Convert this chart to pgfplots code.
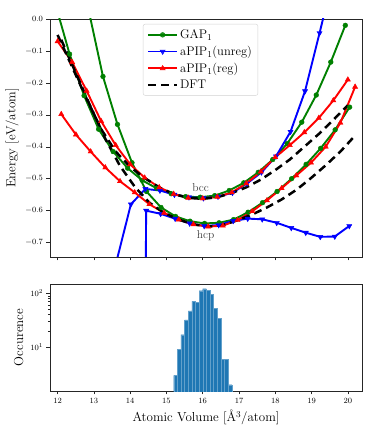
\documentclass[border=0pt]{standalone}
\usepackage{pgfplots}
\pgfplotsset{compat=1.18}
\definecolor{mgreen}{HTML}{008000}
\definecolor{mblue}{HTML}{0000FF}
\definecolor{mred}{HTML}{FF0000}
\definecolor{histblue}{HTML}{1F77B4}
\definecolor{framec}{HTML}{262626}

\pgfplotsset{
  common/.style={
    scale only axis,
    width=312pt,
    xmin=11.79, xmax=20.39,
    xtick={12,13,14,15,16,17,18,19,20},
    axis line style={framec, line width=0.6pt},
    tick style={framec, line width=0.5pt},
    tick align=outside,
    xtick pos=bottom, ytick pos=left,
    major tick length=3.5pt, minor tick length=2pt,
    tick label style={font=\fontsize{8.5}{10}\selectfont},
    label style={font=\fontsize{13}{15}\selectfont},
  },
  gapstyle/.style={mgreen, line width=1.9pt, mark=*, mark size=2.4pt, mark options={solid, line width=0.4pt}},
  unregstyle/.style={mblue, line width=1.9pt, mark=triangle*, mark size=3pt, mark options={solid, line width=0.4pt, rotate=180}},
  regstyle/.style={mred, line width=1.9pt, mark=triangle*, mark size=3pt, mark options={solid, line width=0.4pt}},
  dftstyle/.style={black, line width=2.5pt, dash pattern=on 8pt off 5pt},
}

\begin{document}
\begin{tikzpicture}
\path[use as bounding box] (-50pt,-179pt) rectangle (324pt,257pt);

\begin{axis}[common,
  name=top, at={(0,0)}, anchor=south west,
  height=238pt,
  ymin=-0.745, ymax=0,
  xticklabels={},
  ytick={-0.7,-0.6,-0.5,-0.4,-0.3,-0.2,-0.1,0},
  yticklabels={$-0.7$,$-0.6$,$-0.5$,$-0.4$,$-0.3$,$-0.2$,$-0.1$,$0.0$},
  ylabel={Energy [eV/atom]},
  legend cell align=left,
  legend style={at={(0.298,0.979)}, anchor=north west,
    font=\fontsize{12.5}{14}\selectfont,
    draw=black!18, rounded corners=2pt, fill=white, fill opacity=0.85, text opacity=1,
    row sep=2pt, inner xsep=4pt, inner ysep=3.5pt},
  legend image code/.code={\draw[mark repeat=2, mark phase=2] plot coordinates {(0cm,0cm) (0.5cm,0cm) (1cm,0cm)};},
]
% GAP_1
\addplot[gapstyle] coordinates {
(11.93,0.05) (12.33,-0.11) (12.73,-0.24) (13.13,-0.345) (13.53,-0.415) (13.93,-0.467)
(14.33,-0.505) (14.73,-0.53) (15.13,-0.547) (15.53,-0.556) (15.93,-0.558) (16.33,-0.553)
(16.73,-0.537) (17.13,-0.513) (17.53,-0.48) (17.93,-0.44) (18.33,-0.39) (18.73,-0.323)
(19.13,-0.238) (19.53,-0.135) (19.93,-0.02)};
\addlegendentry{GAP$_1$}
\addplot[gapstyle, forget plot] coordinates {
(12.05,0.36) (12.45,0.2) (12.85,0.03) (13.25,-0.18) (13.65,-0.33) (14.05,-0.45)
(14.45,-0.54) (14.85,-0.59) (15.25,-0.618) (15.65,-0.633) (16.05,-0.64) (16.45,-0.638)
(16.85,-0.628) (17.25,-0.605) (17.65,-0.575) (18.05,-0.54) (18.45,-0.5) (18.85,-0.455)
(19.25,-0.405) (19.65,-0.347) (20.05,-0.276)};
% aPIP_1 unregularised
\addplot[unregstyle] coordinates {
(13.22,-1.2) (13.62,-0.76) (14.02,-0.58) (14.42,-0.532) (14.82,-0.537) (15.22,-0.55)
(15.62,-0.558) (16.02,-0.561) (16.42,-0.556) (16.82,-0.544) (17.22,-0.515) (17.62,-0.48)
(18.02,-0.43) (18.42,-0.353) (18.82,-0.226) (19.22,-0.044) (19.62,0.14)};
\addlegendentry{aPIP$_1$(unreg)}
\addplot[unregstyle, forget plot] coordinates {
(14.04,-8) (14.44,-0.6) (14.84,-0.61) (15.24,-0.625) (15.64,-0.64) (16.04,-0.648)
(16.44,-0.645) (16.84,-0.632) (17.24,-0.625) (17.64,-0.627) (18.04,-0.638) (18.44,-0.654)
(18.84,-0.669) (19.24,-0.682) (19.64,-0.681) (20.04,-0.648)};
% aPIP_1 regularised
\addplot[regstyle] coordinates {
(12.0,-0.07) (12.4,-0.135) (12.8,-0.225) (13.2,-0.32) (13.6,-0.395) (14.0,-0.455)
(14.4,-0.497) (14.8,-0.527) (15.2,-0.548) (15.6,-0.56) (16.0,-0.562) (16.4,-0.557)
(16.8,-0.543) (17.2,-0.515) (17.6,-0.478) (18.0,-0.433) (18.4,-0.395) (18.8,-0.355)
(19.2,-0.31) (19.6,-0.255) (20.0,-0.19)};
\addlegendentry{aPIP$_1$(reg)}
\addplot[regstyle, forget plot] coordinates {
(12.1,-0.298) (12.505,-0.362) (12.91,-0.415) (13.315,-0.465) (13.72,-0.508) (14.125,-0.543)
(14.53,-0.58) (14.935,-0.607) (15.34,-0.628) (15.745,-0.643) (16.15,-0.65) (16.555,-0.647)
(16.96,-0.63) (17.365,-0.602) (17.77,-0.568) (18.175,-0.53) (18.58,-0.49) (18.985,-0.45)
(19.39,-0.4) (19.795,-0.325) (20.2,-0.2125)};
% DFT
\addplot[dftstyle] coordinates {
(12.0,-0.05) (12.4,-0.15) (12.8,-0.25) (13.2,-0.345) (13.6,-0.415) (14.0,-0.463)
(14.4,-0.498) (14.8,-0.527) (15.2,-0.548) (15.6,-0.56) (16.0,-0.563) (16.4,-0.558)
(16.8,-0.545) (17.2,-0.527) (17.6,-0.503) (18.0,-0.473) (18.4,-0.44) (18.8,-0.4)
(19.2,-0.36) (19.6,-0.316) (20.0,-0.27)};
\addlegendentry{DFT}
\addplot[dftstyle, forget plot] coordinates {
(12.1,-0.065) (12.505,-0.17) (12.91,-0.275) (13.315,-0.375) (13.72,-0.46) (14.125,-0.525)
(14.53,-0.575) (14.935,-0.607) (15.34,-0.628) (15.745,-0.643) (16.15,-0.65) (16.555,-0.645)
(16.96,-0.63) (17.365,-0.612) (17.77,-0.59) (18.175,-0.565) (18.58,-0.535) (18.985,-0.498)
(19.39,-0.458) (19.795,-0.415) (20.2,-0.365)};

\node[font=\fontsize{11.5}{13}\selectfont, text=black!75] at (axis cs:15.94,-0.528) {bcc};
\node[font=\fontsize{11.5}{13}\selectfont, text=black!75] at (axis cs:16.08,-0.678) {hcp};
\node[anchor=south west, inner sep=1pt, font=\fontsize{8}{9}\selectfont] at (rel axis cs:0,1) {$-1.593{\times}10^{3}$};
\end{axis}

\begin{axis}[common,
  at={(0,-27pt)}, anchor=north west,
  height=107pt,
  ymode=log, ymin=1.53, ymax=149,
  ytick={10,100},
  xlabel={Atomic Volume [\AA$^3$/atom]},
  ylabel={Occurence},
]
\addplot[ybar interval, fill=histblue, draw=histblue!70!white, line width=0.3pt] coordinates {
(15.2,3) (15.3,9) (15.4,17) (15.5,32) (15.6,47) (15.7,71) (15.8,68) (15.9,112)
(16.0,122) (16.1,115) (16.2,97) (16.3,52) (16.4,34) (16.5,6) (16.6,6) (16.7,2) (16.8,2)};
\end{axis}
\end{tikzpicture}
\end{document}
